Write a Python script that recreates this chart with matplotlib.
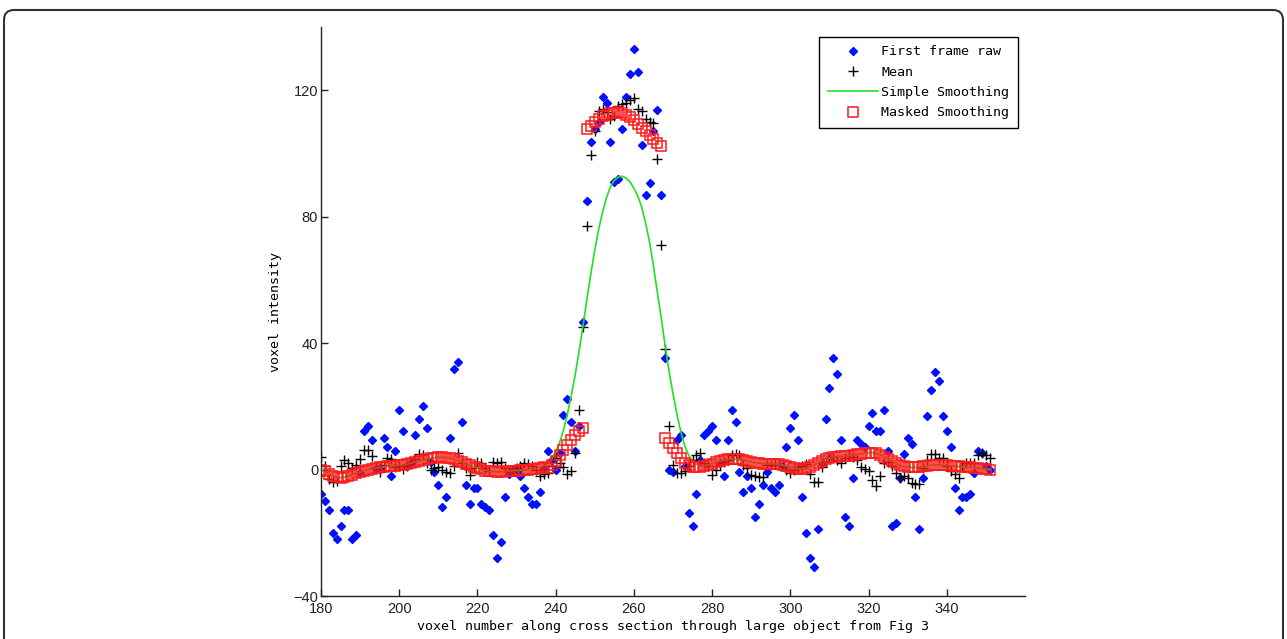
import numpy as np
import matplotlib
matplotlib.use("Agg")
import matplotlib.pyplot as plt
from matplotlib.patches import FancyBboxPatch
from matplotlib.transforms import IdentityTransform

# voxel positions along the cross section
voxel = list(range(180, 352))

# first frame raw intensity, one value per voxel (180..351)
raw = [
    -7.8, -10, -12.9, -20.0, -22.1, -17.9, -12.9, -12.9, -22.1, -20.7,   # 180-189
    -1.0, 12.2, 13.9, 9.3, 0.3, 0.5, 10.1, 7.1, -2.1, 5.8,               # 190-199
    18.8, 12.2, 1.0, 2.0, 10.9, 16.0, 20.2, 13.0, 2.5, -0.7,             # 200-209
    -4.9, -12.0, -8.7, 10.0, 31.8, 34.0, 15.0, -4.9, -10.8, -5.7,        # 210-219
    -5.7, -10.8, -12.0, -12.9, -20.8, -27.9, -22.9, -8.7, -1.3, 0.0,     # 220-229
    0.0, -2.0, -5.7, -8.7, -10.8, -10.8, -7.0, 0.5, 5.8, 3.0,            # 230-239
    0.0, 5.2, 17.2, 22.2, 15.1, 5.8, 13.9, 46.7, 84.8, 103.7,            # 240-249
    107.6, 110.0, 118.0, 115.9, 103.7, 91.0, 92.0, 107.8, 118.0, 125.0,  # 250-259
    133.0, 125.8, 102.8, 87.0, 90.7, 107.0, 113.7, 87.0, 35.2, 0.0,      # 260-269
    -0.7, 9.3, 10.9, 1.0, -13.7, -17.9, -7.8, 3.0, 10.9, 12.2,           # 270-279
    13.7, 9.2, 2.0, -2.0, 9.2, 18.9, 15.0, -0.8, -7.0, -2.0,             # 280-289
    -5.7, -15.0, -10.8, -4.9, -0.7, -5.7, -7.0, -4.9, 1.0, 7.1,          # 290-299
    13.0, 17.2, 9.2, -8.7, -20.0, -27.9, -30.9, -18.8, 2.0, 16.0,        # 300-309
    25.9, 35.2, 30.2, 9.2, -15.0, -17.9, -2.8, 9.2, 8.1, 7.1,            # 310-319
    13.8, 18.0, 12.2, 12.2, 18.9, 5.8, -17.9, -17.0, -2.8, 5.0,          # 320-329
    10.0, 8.1, -8.7, -18.7, -2.8, 17.1, 25.1, 30.9, 28.0, 17.1,          # 330-339
    12.2, 7.2, -5.7, -12.9, -8.7, -8.7, -7.8, -1.2, 6.0, 5.1,            # 340-349
    1.0, 0.0,                                                            # 350-351
]

# mean over frames
mean = [
    4.1, 1.0, -3.0, -4.0, -3.5, 1.0, 3.0, 2.0, 0.5, 1.5,                 # 180-189
    3.2, 6.1, 6.1, 4.2, 0.9, -0.7, 1.5, 3.5, 3.2, 0.9,                   # 190-199
    1.0, 0.2, 1.0, 2.0, 3.4, 4.9, 4.6, 2.0, -0.2, 0.4,                   # 200-209
    0.9, -0.2, -0.7, -1.2, 1.0, 5.1, 2.0, 0.5, -1.7, 0.5,                # 210-219
    2.5, 2.2, 0.5, -0.5, 2.5, 2.0, 2.5, 0.5, -0.5, -0.5,                 # 220-229
    0.5, 1.0, 2.2, 1.9, 1.0, 0.0, -2.0, -1.5, -1.2, 1.0,                 # 230-239
    3.5, 2.0, 0.9, -1.5, -0.4, 5.1, 18.8, 45.2, 77.0, 99.4,              # 240-249
    107.0, 113.5, 114.2, 113.0, 111.0, 112.0, 115.0, 115.5, 116.0, 117.0,  # 250-259
    117.5, 114.0, 113.4, 111.0, 110.0, 109.5, 98.3, 71.0, 38.2, 13.8,    # 260-269
    1.4, -1.2, -1.0, -0.5, 1.0, 3.0, 4.5, 5.1, 2.0, 1.0,                 # 270-279
    -1.7, 0.0, 1.5, 2.5, 3.0, 4.5, 5.0, 4.5, 1.5, 0.4,                   # 280-289
    -1.7, -2.0, -2.5, -2.5, 1.4, 1.5, 1.8, 1.5, 1.0, 0.0,                # 290-299
    -1.2, 0.0, 0.8, 1.0, 1.7, -1.5, -4.0, -4.0, 0.9, 2.5,                # 300-309
    3.5, 4.0, 3.0, 2.0, 3.5, 4.5, 4.0, 3.0, 0.9, 0.2,                    # 310-319
    -0.6, -3.2, -5.3, -2.0, 2.0, 2.5, 1.0, -1.0, -2.6, -2.0,             # 320-329
    -2.6, -4.2, -4.7, -4.7, 0.5, 3.0, 4.8, 4.8, 3.6, 3.6,                # 330-339
    1.0, -0.6, -1.5, -2.6, 1.0, 2.0, 2.0, 2.0, 4.6, 5.1,                 # 340-349
    4.6, 3.8,                                                            # 350-351
]

# simple (unmasked) smoothing
simple = [
    0.0, -0.6, -1.3, -2.0, -2.5, -2.6, -2.4, -2.0, -1.6, -1.2,           # 180-189
    -0.8, -0.4, 0.0, 0.3, 0.5, 0.7, 0.9, 1.0, 1.1, 1.2,                  # 190-199
    1.3, 1.5, 1.7, 2.0, 2.3, 2.6, 3.0, 3.3, 3.6, 3.8,                    # 200-209
    3.9, 3.9, 3.8, 3.6, 3.2, 2.8, 2.3, 1.8, 1.3, 0.9,                    # 210-219
    0.5, 0.2, -0.3, -0.5, -0.6, -0.7, -0.7, -0.6, -0.5, -0.4,            # 220-229
    -0.3, -0.2, -0.1, 0.0, 0.2, 0.4, 0.7, 1.2, 2.0, 3.5,                 # 230-239
    5.5, 8.5, 12.5, 17.5, 23.5, 30.0, 37.5, 45.5, 54.0, 62.0,            # 240-249
    69.5, 76.0, 81.5, 86.0, 89.5, 91.5, 92.5, 92.8, 92.2, 91.0,          # 250-259
    89.0, 86.5, 83.0, 78.0, 72.0, 64.5, 56.0, 48.0, 39.0, 31.0,          # 260-269
    24.0, 17.5, 12.0, 7.5, 4.5, 2.8, 1.8, 1.2, 1.2, 1.5,                 # 270-279
    1.9, 2.3, 2.7, 3.0, 3.2, 3.3, 3.3, 3.2, 3.0, 2.7,                    # 280-289
    2.4, 2.2, 2.0, 1.9, 1.8, 1.8, 1.7, 1.6, 1.4, 1.1,                    # 290-299
    0.8, 0.5, 0.3, 0.3, 0.5, 0.9, 1.4, 2.0, 2.6, 3.2,                    # 300-309
    3.6, 3.9, 4.1, 4.2, 4.3, 4.4, 4.6, 4.8, 5.0, 5.2,                    # 310-319
    5.3, 5.3, 5.1, 4.7, 4.1, 3.4, 2.7, 2.0, 1.4, 1.0,                    # 320-329
    0.8, 0.7, 0.7, 0.8, 1.0, 1.2, 1.4, 1.5, 1.5, 1.4,                    # 330-339
    1.3, 1.2, 1.1, 1.0, 0.9, 0.8, 0.7, 0.6, 0.5, 0.3,                    # 340-349
    0.1, 0.0,                                                            # 350-351
]

# masked smoothing, three separate segments
masked_left_x = list(range(180, 248))
masked_left = [
    0.0, -0.6, -1.3, -2.0, -2.5, -2.6, -2.4, -2.0, -1.6, -1.2,
    -0.8, -0.4, 0.0, 0.3, 0.5, 0.7, 0.9, 1.0, 1.1, 1.2,
    1.3, 1.5, 1.7, 2.0, 2.3, 2.6, 3.0, 3.3, 3.6, 3.8,
    3.9, 3.9, 3.8, 3.6, 3.2, 2.8, 2.3, 1.8, 1.3, 0.9,
    0.5, 0.2, -0.3, -0.5, -0.6, -0.7, -0.7, -0.6, -0.5, -0.4,
    -0.3, -0.2, -0.1, 0.0, 0.1, 0.3, 0.5, 0.8, 0.6, 1.5,
    2.8, 4.5, 6.2, 7.9, 9.5, 11.0, 12.3, 13.3,
]
masked_peak_x = list(range(248, 268))
masked_peak = [
    107.6, 108.8, 110.0, 111.0, 111.8, 112.3, 112.7, 112.9, 113.0, 112.8,
    112.3, 111.5, 110.5, 109.4, 108.2, 107.0, 105.8, 104.5, 103.3, 102.5,
]
masked_right_x = list(range(268, 352))
masked_right = [
    9.9, 8.3, 6.7, 5.1, 3.5, 2.2, 1.4, 0.9, 0.7, 0.8,
    1.1, 1.5, 1.9, 2.3, 2.7, 3.0, 3.2, 3.3, 3.3, 3.2,
    3.0, 2.7, 2.4, 2.2, 2.0, 1.9, 1.8, 1.8, 1.7, 1.6,
    1.4, 1.1, 0.8, 0.5, 0.3, 0.3, 0.5, 0.9, 1.4, 2.0,
    2.6, 3.2, 3.6, 3.9, 4.1, 4.2, 4.3, 4.4, 4.6, 4.8,
    5.0, 5.2, 5.3, 5.3, 5.1, 4.7, 4.1, 3.4, 2.7, 2.0,
    1.4, 1.0, 0.8, 0.7, 0.7, 0.8, 1.0, 1.2, 1.4, 1.5,
    1.5, 1.4, 1.3, 1.2, 1.1, 1.0, 0.9, 0.8, 0.7, 0.6,
    0.5, 0.3, 0.1, 0.0,
]

x_ticks = [180, 200, 220, 240, 260, 280, 300, 320, 340]
y_ticks = [-40, 0, 40, 80, 120]

mono = "DejaVu Sans Mono"
sans = "Liberation Sans"

fig = plt.figure(figsize=(12.87, 6.39), dpi=100)
ax = fig.add_axes([321 / 1287, 43 / 639, 704 / 1287, 569 / 639])

ax.plot(voxel, raw, linestyle="none", marker="D", markersize=3.6,
        color="#0010ff", label="First frame raw")
ax.plot(voxel, mean, linestyle="none", marker="+", markersize=7.5,
        markeredgewidth=1.0, color="black", label="Mean")
ax.plot(voxel, simple, color="#22e022", linewidth=1.2, label="Simple Smoothing")
sq = dict(linestyle="none", marker="s", markersize=6.8, markerfacecolor="none",
          markeredgecolor="#ff1a1a", markeredgewidth=1.1)
ax.plot(masked_left_x, masked_left, label="Masked Smoothing", **sq)
ax.plot(masked_peak_x, masked_peak, **sq)
ax.plot(masked_right_x, masked_right, **sq)

ax.set_xlim(180, 360)
ax.set_ylim(-40, 140)
ax.set_xticks(x_ticks)
ax.set_yticks(y_ticks)
ax.spines["top"].set_visible(False)
ax.spines["right"].set_visible(False)
for s in ("left", "bottom"):
    ax.spines[s].set_linewidth(1.0)
    ax.spines[s].set_color("#222222")
ax.tick_params(direction="in", length=5, width=1.0, colors="#222222")
ax.tick_params(axis="x", pad=4)
ax.tick_params(axis="y", pad=2)
for lab in ax.get_xticklabels() + ax.get_yticklabels():
    lab.set_fontfamily(sans)
    lab.set_fontsize(10.5)

ax.set_xlabel("voxel number along cross section through large object from Fig 3",
              fontfamily=mono, fontsize=9.6, labelpad=3)
ax.set_ylabel("voxel intensity", fontfamily=mono, fontsize=9.6, labelpad=8)

leg = ax.legend(loc="upper right", bbox_to_anchor=(0.990, 0.983),
                borderaxespad=0, fancybox=False, framealpha=1,
                edgecolor="black", handlelength=3.75, handletextpad=0.25,
                labelspacing=0.55, borderpad=0.65,
                prop={"family": mono, "size": 9.6})
leg.get_frame().set_linewidth(1.0)

# rounded frame around the whole picture
frame = FancyBboxPatch((4, -40), 1279, 639 - 10 + 40,
                       boxstyle="round,pad=0,rounding_size=10",
                       transform=IdentityTransform(), fill=False,
                       edgecolor="#333333", linewidth=1.5)
fig.patches.append(frame)

fig.savefig("out.png", dpi=100)
